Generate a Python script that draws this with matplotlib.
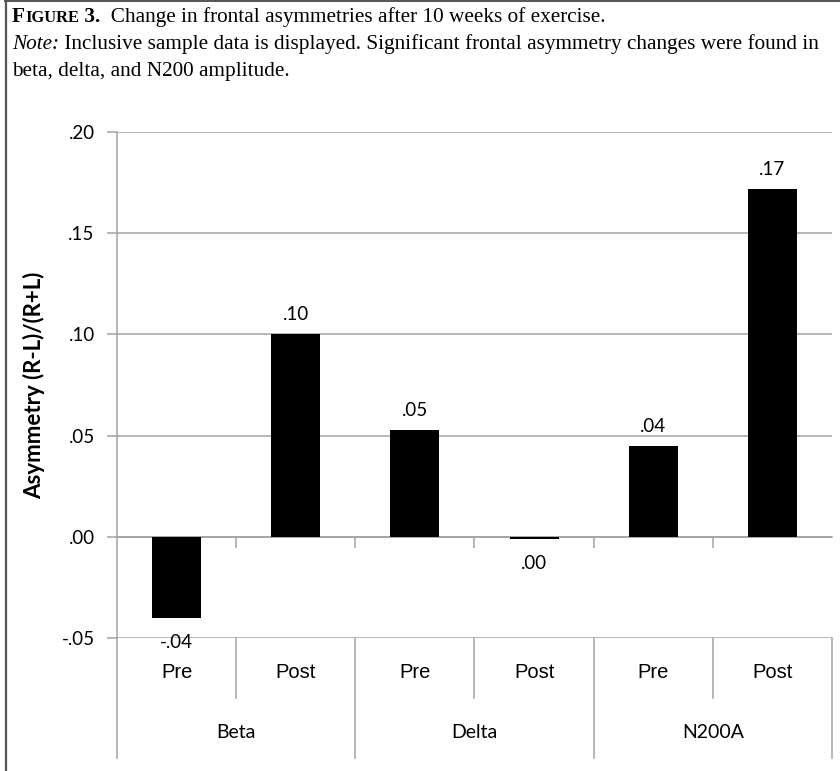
import matplotlib
matplotlib.use("Agg")
import matplotlib.pyplot as plt
import matplotlib.transforms as mtransforms
from matplotlib.lines import Line2D

# ---- data ----
groups = ["Beta", "Delta", "N200A"]
subcats = ["Pre", "Post", "Pre", "Post", "Pre", "Post"]
values = [-0.040, 0.100, 0.053, -0.001, 0.045, 0.172]
value_labels = ["-.04", ".10", ".05", ".00", ".04", ".17"]
yticks = [-0.05, 0.00, 0.05, 0.10, 0.15, 0.20]
ytick_labels = ["-.05", ".00", ".05", ".10", ".15", ".20"]
ylabel = "Asymmetry (R-L)/(R+L)"

W, H = 840, 771
fig = plt.figure(figsize=(W / 100, H / 100), dpi=100)

def fx(px):
    return px / W

def fy(py):
    return 1 - py / H

GRID = "#a3a3a3"
SANS = "Lato"

ax = fig.add_axes([fx(117), fy(638), fx(832) - fx(117), fy(132) - fy(638)])
n = len(values)
xs = list(range(n))
ax.bar(xs, values, width=0.41, color="black", zorder=3)
ax.set_xlim(-0.5, n - 0.5)
ax.set_ylim(yticks[0], yticks[-1])

ax.set_yticks(yticks)
ax.set_yticklabels(ytick_labels, fontfamily=SANS, fontsize=13.5)
ax.yaxis.grid(True, color=GRID, linewidth=1.1)
ax.set_axisbelow(True)
ax.tick_params(axis="y", direction="out", length=7, color=GRID, width=1.1, pad=9)

ax.set_xticks([i + 0.5 for i in range(n - 1)])
ax.set_xticklabels([])
ax.tick_params(axis="x", direction="out", length=8, color=GRID, width=1.1)
ax.spines["bottom"].set_position(("data", 0))
ax.spines["bottom"].set_color(GRID)
ax.spines["bottom"].set_linewidth(1.1)
for s in ["top", "right"]:
    ax.spines[s].set_visible(False)
ax.spines["left"].set_color(GRID)
ax.spines["left"].set_linewidth(1.1)

ax.set_ylabel(ylabel, fontfamily=SANS, fontweight="bold", fontsize=16)
ax.yaxis.set_label_coords((34 - 117) / 715, 0.5)
ax.yaxis.label.set_va("center")

# value labels
for x, v, lab in zip(xs, values, value_labels):
    if v >= 0:
        ax.annotate(lab, (x, v), xytext=(0, 14), textcoords="offset pixels",
                    ha="center", va="baseline", fontfamily=SANS, fontsize=13.5)
    else:
        ax.annotate(lab, (x, v), xytext=(0, -16), textcoords="offset pixels",
                    ha="center", va="top", fontfamily=SANS, fontsize=13.5)

# category table below the plot
trans = mtransforms.blended_transform_factory(ax.transData, fig.transFigure)
y_top = fy(638)
y_sub = fy(698)
y_grp = fy(758)
for i in range(n + 1):
    xb = i - 0.5
    y_end = y_grp if i % 2 == 0 else y_sub
    ax.add_line(Line2D([xb, xb], [y_top, y_end], transform=trans, color=GRID,
                       linewidth=1.1, clip_on=False))
for x, lab in zip(xs, subcats):
    ax.text(x, fy(673), lab, transform=trans, ha="center", va="center",
            fontfamily="Liberation Sans", fontsize=14.5)
for g, lab in enumerate(groups):
    ax.text(2 * g + 0.5, fy(733), lab, transform=trans, ha="center", va="center",
            fontfamily=SANS, fontsize=14)

# border lines of the figure frame
fig.add_artist(Line2D([fx(6), fx(6)], [0, 1], transform=fig.transFigure,
                      color="#555555", linewidth=1.6))
fig.add_artist(Line2D([fx(5), 1], [fy(1), fy(1)], transform=fig.transFigure,
                      color="#555555", linewidth=1.4))

# caption with runs
renderer = fig.canvas.get_renderer()
SERIF = "Liberation Serif"

def runs(x0, ybase, parts):
    x = x0
    for txt, kw in parts:
        t = fig.text(fx(x), fy(ybase), txt, va="baseline", ha="left",
                     fontfamily=SERIF, **kw)
        bb = t.get_window_extent(renderer=renderer)
        x += bb.width

CS = 15.3
runs(12, 22, [("F", dict(fontsize=CS, fontweight="bold")),
              ("IGURE", dict(fontsize=CS * 0.78, fontweight="bold")),
              (" 3.", dict(fontsize=CS, fontweight="bold")),
              ("  Change in frontal asymmetries after 10 weeks of exercise.", dict(fontsize=CS))])
runs(12, 49, [("Note:", dict(fontsize=CS, style="italic")),
              (" Inclusive sample data is displayed. Significant frontal asymmetry changes were found in",
               dict(fontsize=CS))])
runs(12, 76, [("beta, delta, and N200 amplitude.", dict(fontsize=CS))])

fig.savefig("out.png", dpi=100)
